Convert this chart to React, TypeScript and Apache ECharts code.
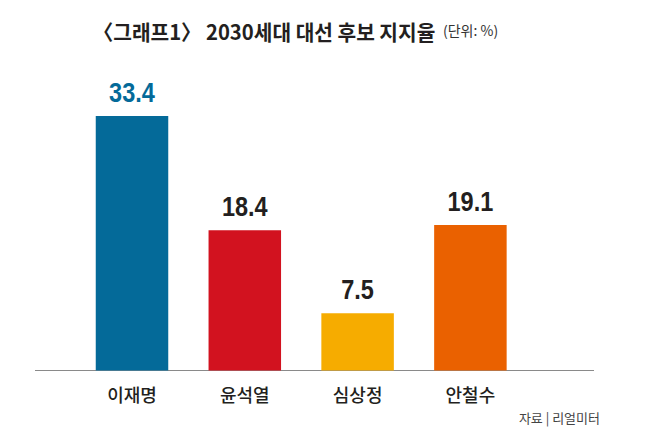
import React, { useEffect, useRef } from "react";
import * as echarts from "echarts";

const titleText = "〈그래프1〉 2030세대 대선 후보 지지율";
const unitText = "(단위: %)";
const sourceText = "자료 | 리얼미터";
const categories = ["이재명", "윤석열", "심상정", "안철수"];
const values = [33.4, 18.4, 7.5, 19.1];
const barColors = ["#046a99", "#d2121f", "#f6ac00", "#ea6100"];
const labelColors = ["#046a99", "#231f20", "#231f20", "#231f20"];

const numFont = "'Liberation Sans', Arial, sans-serif";
const krFont = "'Noto Sans CJK KR', 'Noto Sans', sans-serif";

export default function App() {
  const ref = useRef<HTMLDivElement>(null);
  useEffect(() => {
    if (!ref.current) return;
    const chart = echarts.init(ref.current, null, { renderer: "svg" });
    chart.setOption({
      animation: false,
      backgroundColor: "#ffffff",
      grid: { left: 75.6, right: 123.2, top: 65.7, bottom: 58.5 },
      xAxis: {
        type: "category",
        data: categories,
        axisLine: { show: false },
        axisTick: { show: false },
        axisLabel: {
          margin: 14,
          fontSize: 18,
          fontWeight: 500,
          color: "#231f20",
          fontFamily: krFont,
        },
      },
      yAxis: {
        type: "value",
        min: 0,
        max: 40,
        show: false,
        splitLine: { show: false },
      },
      series: [
        {
          type: "bar",
          barWidth: 72.5,
          data: values.map((v, i) => ({
            value: v,
            itemStyle: { color: barColors[i] },
          })),
        },
        {
          type: "custom",
          data: values.map((v, i) => [i, v]),
          encode: { x: 0, y: 1 },
          z: 5,
          renderItem: (params: any, api: any) => {
            const v = api.value(1);
            const pt = api.coord([api.value(0), v]);
            return {
              type: "text",
              x: pt[0],
              y: pt[1] - 10,
              scaleX: 0.84,
              style: {
                text: Number(v).toFixed(1),
                fill: labelColors[params.dataIndex],
                fontSize: 28,
                fontWeight: "bold",
                fontFamily: numFont,
                textAlign: "center",
                textVerticalAlign: "bottom",
              },
            };
          },
        },
      ],
      graphic: [
        {
          type: "line",
          shape: { x1: 35, y1: 370.5, x2: 594, y2: 370.5 },
          style: { stroke: "#8a8a8a", lineWidth: 1.2 },
          silent: true,
        },
        {
          type: "text",
          x: 93,
          y: 31,
          scaleX: 0.965,
          style: {
            text: titleText,
            fontSize: 21,
            fontWeight: "bold",
            fontFamily: krFont,
            fill: "#231f20",
            textAlign: "left",
            textVerticalAlign: "middle",
          },
        },
        {
          type: "text",
          x: 443,
          y: 29.5,
          style: {
            text: unitText,
            fontSize: 14,
            fontFamily: krFont,
            fill: "#333333",
            textAlign: "left",
            textVerticalAlign: "middle",
          },
        },
        {
          type: "text",
          x: 600,
          y: 417,
          style: {
            text: sourceText,
            fontSize: 13,
            fontFamily: krFont,
            fill: "#444444",
            textAlign: "right",
            textVerticalAlign: "middle",
          },
        },
      ],
    });
    return () => chart.dispose();
  }, []);
  return (
    <div
      ref={ref}
      style={{ position: "absolute", left: 0, top: 0, width: 650, height: 429 }}
    />
  );
}
